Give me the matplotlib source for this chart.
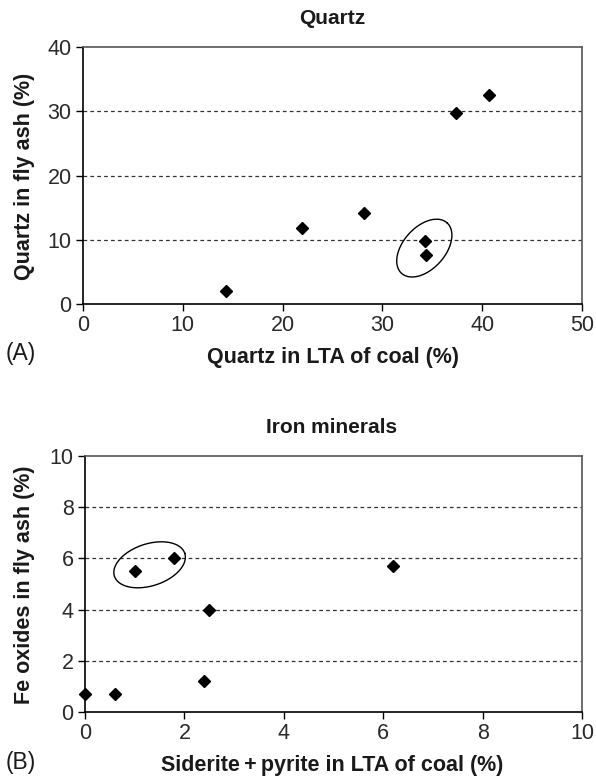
import numpy as np
import matplotlib.pyplot as plt

plt.rcParams['font.family'] = ['Liberation Sans', 'DejaVu Sans']

# Données
quartz_lta = [14.3, 21.9, 28.2, 34.3, 34.4, 37.4, 40.7]
quartz_ash = [2.0, 11.9, 14.2, 9.8, 7.6, 29.8, 32.5]

fer_lta = [0.0, 0.6, 2.4, 1.0, 1.8, 2.5, 6.2]
fer_ash = [0.7, 0.72, 1.2, 5.5, 6.0, 4.0, 5.7]

# ellipses: centre (données), demi-axes (px), angle (deg)
ell_a = ((34.2, 8.7), 34, 21, 48)
ell_b = ((1.3, 5.75), 37, 21, 18)

W, H = 596, 778
fig = plt.figure(figsize=(W/100, H/100), dpi=100)
ax1 = fig.add_axes([83/W, 1-304/H, 499/W, 257/H])
ax2 = fig.add_axes([85/W, 1-712/H, 497/W, 256/H])

couleur_txt = '#1a1a1a'


def style(ax, xmax, ymax, xstep, ystep):
    ax.set_xlim(0, xmax)
    ax.set_ylim(0, ymax)
    ax.set_xticks(np.arange(0, xmax + xstep/2, xstep))
    ax.set_yticks(np.arange(0, ymax + ystep/2, ystep))
    for y in np.arange(ystep, ymax, ystep):
        ax.axhline(y, color='#333333', lw=0.9, ls=(0, (3, 2.5)), zorder=1)
    ax.spines['left'].set_color('black')
    ax.spines['bottom'].set_color('black')
    ax.spines['top'].set_color('#555555')
    ax.spines['right'].set_color('#555555')
    for s in ax.spines.values():
        s.set_linewidth(1.2)
    ax.tick_params(direction='out', length=5, width=1, labelsize=15.5,
                   colors='black', labelcolor='#2a2a2a', pad=3.2)


def ellipse(ax, centre, a, b, ang):
    cx, cy = ax.transData.transform(centre)
    t = np.linspace(0, 2*np.pi, 200)
    th = np.radians(ang)
    px = cx + a*np.cos(t)*np.cos(th) - b*np.sin(t)*np.sin(th)
    py = cy + a*np.cos(t)*np.sin(th) + b*np.sin(t)*np.cos(th)
    pts = ax.transData.inverted().transform(np.column_stack([px, py]))
    ax.plot(pts[:, 0], pts[:, 1], color='black', lw=1.0, zorder=2)


def txt(x, y, s, **kw):
    kw.setdefault('fontsize', 15)
    kw.setdefault('fontweight', 'bold')
    fig.text(x/W, 1-y/H, s, ha=kw.pop('ha', 'center'), va='center',
             color=couleur_txt, **kw)


style(ax1, 50, 40, 10, 10)
ax1.plot(quartz_lta, quartz_ash, 'D', color='black', ms=6, zorder=3)
ellipse(ax1, *ell_a)

style(ax2, 10, 10, 2, 2)
ax2.plot(fer_lta, fer_ash, 'D', color='black', ms=6, zorder=3, clip_on=False)
ellipse(ax2, *ell_b)

# titres et étiquettes
txt(332, 18, 'Quartz')
txt(333, 358, 'Quartz in LTA of coal (%)', fontsize=15.5)
txt(25, 176, 'Quartz in fly ash (%)', fontsize=15.5, rotation=90)

txt(332, 427, 'Iron minerals')
txt(332, 765, 'Siderite\u2009+\u2009pyrite in LTA of coal (%)', fontsize=15.5)
txt(25, 585, 'Fe oxides in fly ash (%)', fontsize=15.5, rotation=90)

txt(6, 354, '(A)', fontweight='normal', ha='left', fontsize=16.5)
txt(6, 763, '(B)', fontweight='normal', ha='left', fontsize=16.5)

fig.savefig('out.png', dpi=100)
